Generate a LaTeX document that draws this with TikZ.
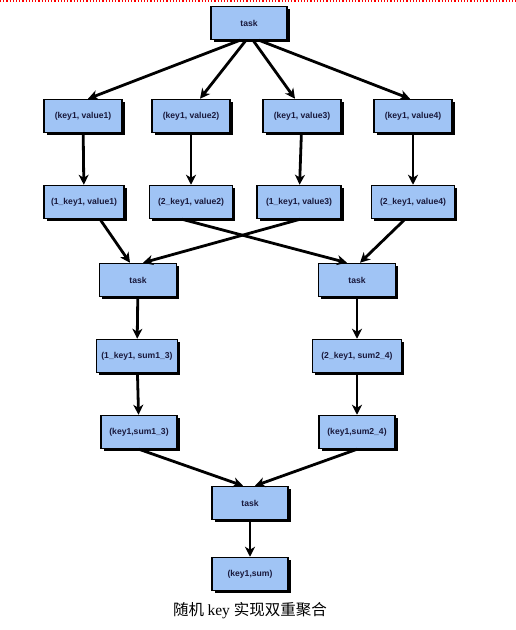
\documentclass[tikz,border=0pt]{standalone}
\usepackage{fontspec}
\setmainfont{Liberation Serif}
\newfontfamily\boxfont{Liberation Sans}
\newfontfamily\cjk{Noto Sans CJK SC}
\usetikzlibrary{arrows.meta,shadows}
\definecolor{kastenblau}{RGB}{160,196,245}
\definecolor{schrift}{RGB}{25,25,60}
\begin{document}
\begin{tikzpicture}[x=1pt, y=-1pt,
		kasten/.style = {draw, line width=1.5pt, fill=kastenblau, minimum width=78pt, minimum height=33pt,
			inner sep=1pt, text=schrift, font=\boxfont\bfseries\fontsize{8.6}{10}\selectfont,
			drop shadow={shadow xshift=2.5pt, shadow yshift=-2.5pt, opacity=1, fill=black}},
		pfeil/.style = {line width=2.8pt, -{Stealth[length=10pt, width=10pt, inset=3pt]}}]
		\useasboundingbox (0, 0) rectangle (516, 630);
		% Seitenrand
		\draw [color = red, dotted, line width=1.2pt] (0, 1) -- (516, 1);
		% Oben
		\node [kasten, minimum width=76pt] (task) at (249, 23) {task};
		% Zweite Reihe
		\node [kasten] (kv1) at (83, 116) {(key1, value1)};
		\node [kasten] (kv2) at (191, 116) {(key1, value2)};
		\node [kasten] (kv3) at (302, 116) {(key1, value3)};
		\node [kasten] (kv4) at (413, 116) {(key1, value4)};
		% Dritte Reihe
		\node [kasten, minimum width=80pt] (rkv1) at (84, 202) {(1\_key1, value1)};
		\node [kasten, minimum width=83pt] (rkv2) at (191, 202) {(2\_key1, value2)};
		\node [kasten, minimum width=84pt] (rkv3) at (299, 202) {(1\_key1, value3)};
		\node [kasten, minimum width=83pt] (rkv4) at (413, 202) {(2\_key1, value4)};
		% Zwei Tasks
		\node [kasten, minimum width=77pt] (taskL) at (138, 280) {task};
		\node [kasten, minimum width=77pt] (taskR) at (357, 280) {task};
		\node [kasten, minimum width=81pt] (sumL) at (137, 356) {(1\_key1, sum1\_3)};
		\node [kasten, minimum width=89pt] (sumR) at (357, 356) {(2\_key1, sum2\_4)};
		\node [kasten, minimum width=76pt] (ksL) at (139, 432) {(key1,sum1\_3)};
		\node [kasten, minimum width=76pt] (ksR) at (357, 432) {(key1,sum2\_4)};
		% Unten
		\node [kasten, minimum width=76pt] (taskU) at (250, 503) {task};
		\node [kasten, minimum width=76pt] (ergebnis) at (250, 574) {(key1,sum)};
		\node (titel) at (250, 611) {\fontsize{15.5}{18}\selectfont\cjk 随机 \rmfamily key \cjk 实现双重聚合};
		% Pfeile
		\draw [pfeil] ([xshift=-9pt]task.south) -- ([xshift=5pt]kv1.north);
		\draw [pfeil] ([xshift=-3pt]task.south) -- ([xshift=9pt]kv2.north);
		\draw [pfeil] ([xshift=4pt]task.south) -- ([xshift=-7pt]kv3.north);
		\draw [pfeil] ([xshift=10pt]task.south) -- ([xshift=-3pt]kv4.north);
		\draw [pfeil] (kv1) -- (rkv1);
		\draw [pfeil] (kv2) -- (rkv2);
		\draw [pfeil] (kv3) -- (rkv3);
		\draw [pfeil] (kv4) -- (rkv4);
		\draw [pfeil] ([xshift=16pt]rkv1.south) -- ([xshift=-8pt]taskL.north);
		\draw [pfeil] ([xshift=-9pt]rkv2.south) -- ([xshift=-10pt]taskR.north);
		\draw [pfeil] ([xshift=1pt]rkv3.south) -- ([xshift=5pt]taskL.north);
		\draw [pfeil] ([xshift=-8pt]rkv4.south) -- ([xshift=3pt]taskR.north);
		\draw [pfeil] (taskL) -- (sumL);
		\draw [pfeil] (taskR) -- (sumR);
		\draw [pfeil] (sumL) -- (ksL);
		\draw [pfeil] (sumR) -- (ksR);
		\draw [pfeil] (ksL.south) -- ([xshift=-7pt]taskU.north);
		\draw [pfeil] (ksR.south) -- ([xshift=5pt]taskU.north);
		\draw [pfeil] (taskU) -- (ergebnis);
	\end{tikzpicture}
\end{document}
